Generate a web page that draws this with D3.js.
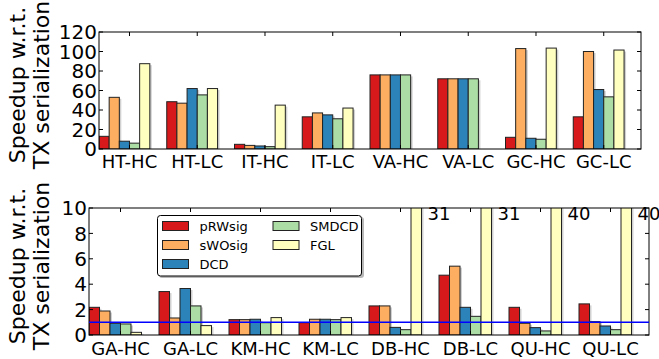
<!DOCTYPE html>
<html>
<head>
<meta charset="utf-8">
<script src="https://cdn.jsdelivr.net/npm/d3@7"></script>
<style>
  html, body { margin: 0; padding: 0; background: #fff; }
  svg { display: block; font-family: "DejaVu Sans", sans-serif; }
</style>
</head>
<body>
<svg id="chart" width="659" height="359"></svg>
<script>
// Series names and colours
const seriesNames = ["pRWsig", "sWOsig", "DCD", "SMDCD", "FGL"];
const seriesColors = ["#d7191c", "#fdae61", "#2b83ba", "#abdda4", "#ffffbf"];

// Upper panel: large-speedup benchmarks
const topCategories = ["HT-HC", "HT-LC", "IT-HC", "IT-LC", "VA-HC", "VA-LC", "GC-HC", "GC-LC"];
const topPRWsig = [13, 48.5, 4.8, 33, 76, 72, 12, 33];
const topSWOsig = [53, 47, 3.7, 37, 76, 72, 103, 100];
const topDCD    = [8, 62, 3.1, 35, 76, 72, 11, 61];
const topSMDCD  = [6, 55.5, 2.4, 31, 76, 72, 10, 53.5];
const topFGL    = [87.5, 62, 45, 42, 0, 0, 103.5, 101.5];
const topTicks  = [0, 20, 40, 60, 80, 100, 120];

// Lower panel: small-speedup benchmarks
const botCategories = ["GA-HC", "GA-LC", "KM-HC", "KM-LC", "DB-HC", "DB-LC", "QU-HC", "QU-LC"];
const botPRWsig = [2.18, 3.42, 1.21, 0.97, 2.29, 4.71, 2.18, 2.45];
const botSWOsig = [1.89, 1.34, 1.21, 1.24, 2.29, 5.42, 0.92, 1.05];
const botDCD    = [0.92, 3.66, 1.24, 1.24, 0.6, 2.18, 0.58, 0.71];
const botSMDCD  = [0.87, 2.29, 0.97, 1.21, 0.42, 1.47, 0.32, 0.42];
const botFGL    = [0.21, 0.74, 1.37, 1.37, 31, 31, 40, 40];
const botTicks  = [0, 2, 4, 6, 8, 10];
const baselineSpeedup = 1;

const svg = d3.select("#chart");

function panel(opts) {
  const { left, right, top, bottom, cats, series, ticks, yMax, labelCx, labelBase, xLabelBase, overflowLabels } = opts;
  const x = d3.scaleLinear().domain([0, cats.length]).range([left, right]);
  const y = d3.scaleLinear().domain([0, yMax]).range([bottom, top]);
  const g = svg.append("g");
  const barW = 0.15;
  const clipId = "clip" + Math.round(top);
  svg.append("clipPath").attr("id", clipId)
    .append("rect").attr("x", left).attr("y", top).attr("width", right - left).attr("height", bottom - top);

  const bars = [];
  series.forEach((vals, si) => {
    vals.forEach((v, ci) => bars.push({ si, ci, v }));
  });

  const bg = g.append("g").attr("clip-path", `url(#${clipId})`);
  // soft drop shadows
  bg.selectAll("rect.shadow").data(bars).join("rect")
    .attr("class", "shadow")
    .attr("x", d => x(d.ci + d.si * barW) + 2)
    .attr("y", d => Math.min(y(d.v), bottom) + 1.5)
    .attr("width", x(barW) - x(0))
    .attr("height", d => Math.max(0, bottom - y(d.v)))
    .attr("fill", "#999").attr("opacity", 0.45);
  bg.selectAll("rect.bar").data(bars).join("rect")
    .attr("class", "bar")
    .attr("x", d => x(d.ci + d.si * barW))
    .attr("y", d => y(d.v))
    .attr("width", x(barW) - x(0))
    .attr("height", d => Math.max(0, bottom - y(d.v)))
    .attr("fill", d => seriesColors[d.si])
    .attr("stroke", "#222").attr("stroke-width", 1);

  // inward ticks on all four sides
  const tickPos = cats.map((c, i) => i + 0.45);
  const tk = g.append("g").attr("stroke", "#000").attr("stroke-width", 1);
  tickPos.forEach(t => {
    tk.append("line").attr("x1", x(t)).attr("x2", x(t)).attr("y1", top).attr("y2", top + 4);
    tk.append("line").attr("x1", x(t)).attr("x2", x(t)).attr("y1", bottom).attr("y2", bottom - 4);
  });
  ticks.forEach(t => {
    tk.append("line").attr("x1", left).attr("x2", left + 4).attr("y1", y(t)).attr("y2", y(t));
    tk.append("line").attr("x1", right).attr("x2", right - 4).attr("y1", y(t)).attr("y2", y(t));
  });

  // frame
  g.append("rect").attr("x", left).attr("y", top).attr("width", right - left).attr("height", bottom - top)
    .attr("fill", "none").attr("stroke", "#000").attr("stroke-width", 1);

  // y tick labels
  g.selectAll("text.ytick").data(ticks).join("text")
    .attr("class", "ytick")
    .attr("x", left - 2).attr("y", d => y(d)).attr("dy", "0.36em")
    .attr("text-anchor", "end").attr("font-size", 20).text(d => d);

  // category labels
  g.selectAll("text.xtick").data(cats).join("text")
    .attr("class", "xtick")
    .attr("x", (d, i) => x(i + 0.45)).attr("y", xLabelBase)
    .attr("text-anchor", "middle").attr("font-size", 18).text(d => d);

  // axis title, two lines
  const lt = g.append("g");
  lt.append("text").attr("transform", `translate(${labelBase[0]},${labelCx}) rotate(-90)`)
    .attr("text-anchor", "middle").attr("font-size", 22).text("Speedup w.r.t.");
  lt.append("text").attr("transform", `translate(${labelBase[1]},${labelCx}) rotate(-90)`)
    .attr("text-anchor", "middle").attr("font-size", 22).text("TX serialization");

  if (overflowLabels) {
    const over = bars.filter(d => d.v > yMax);
    g.selectAll("text.over").data(over).join("text")
      .attr("class", "over")
      .attr("x", d => x(d.ci + (d.si + 1) * barW) + 6)
      .attr("y", top + 12)
      .attr("font-size", 18).text(d => d3.format("d")(d.v));
  }
  return { x, y, g };
}

panel({
  left: 99, right: 641, top: 32, bottom: 149,
  cats: topCategories,
  series: [topPRWsig, topSWOsig, topDCD, topSMDCD, topFGL],
  ticks: topTicks, yMax: 120,
  labelCx: 85, labelBase: [25, 49], xLabelBase: 168
});

const bot = panel({
  left: 89, right: 649, top: 208, bottom: 335,
  cats: botCategories,
  series: [botPRWsig, botSWOsig, botDCD, botSMDCD, botFGL],
  ticks: botTicks, yMax: 10,
  labelCx: 266, labelBase: [25, 49], xLabelBase: 355,
  overflowLabels: true
});

// reference line at speedup 1
bot.g.append("line")
  .attr("x1", 89).attr("x2", 649)
  .attr("y1", bot.y(baselineSpeedup)).attr("y2", bot.y(baselineSpeedup))
  .attr("stroke", "#0000ff").attr("stroke-width", 1.5);

// legend
const lg = svg.append("g");
lg.append("rect").attr("x", 159).attr("y", 217).attr("width", 205).attr("height", 61).attr("rx", 3)
  .attr("fill", "#888").attr("opacity", 0.6);
lg.append("rect").attr("x", 157.5).attr("y", 215.5).attr("width", 204).attr("height", 60.5).attr("rx", 3)
  .attr("fill", "#fff").attr("stroke", "#000").attr("stroke-width", 1);
const legendPos = [
  [162.5, 226], [162.5, 245], [162.5, 264],
  [273, 226], [273, 245]
];
seriesNames.forEach((name, i) => {
  const [lx, ly] = legendPos[i];
  lg.append("rect").attr("x", lx).attr("y", ly - 4.5).attr("width", 26).attr("height", 9)
    .attr("fill", seriesColors[i]).attr("stroke", "#222").attr("stroke-width", 1);
  lg.append("text").attr("x", lx + 37).attr("y", ly).attr("dy", "0.36em")
    .attr("font-size", 13).text(name);
});
</script>
</body>
</html>
